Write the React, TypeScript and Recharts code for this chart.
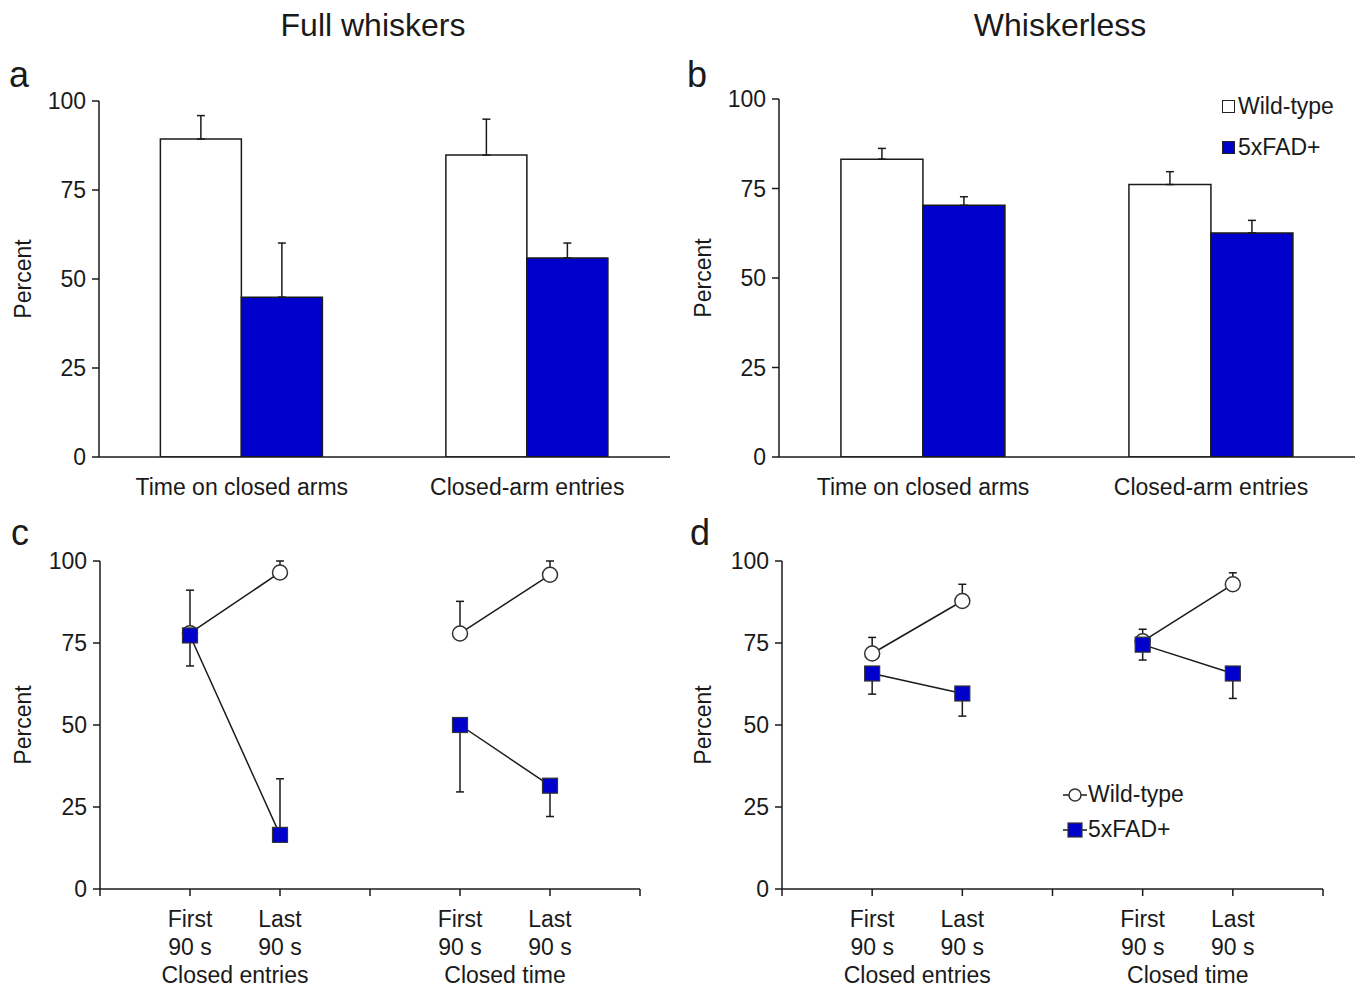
import React from 'react';
import { BarChart, Bar, LineChart, Line, XAxis, YAxis, ErrorBar, Legend } from 'recharts';

const FONT = '"Liberation Sans", Arial, Helvetica, sans-serif';
const INK = '#1a1a1a';
const BLUE = '#0000cc';

// panels a & b (bars)
const barCategories = ['Time on closed arms', 'Closed-arm entries'];
const fullWt = [89.3, 84.8];
const fullWtErr = [6.6, 10.1];
const fullFad = [44.9, 55.9];
const fullFadErr = [15.2, 4.2];
const lessWt = [83.2, 76.1];
const lessWtErr = [3.0, 3.6];
const lessFad = [70.3, 62.6];
const lessFadErr = [2.4, 3.5];

// panels c & d (lines)
const phasePos = [1, 2, 4, 5];
const phaseNames = ['First', 'Last', 'First', 'Last'];
const groupPos = [1.5, 4.5];
const groupNames = ['Closed entries', 'Closed time'];
const percentTicks = [0, 25, 50, 75, 100];
// sign of the error says which way the bar is drawn: + up, - down
const fullWtLine = [78.0, 96.5, 77.9, 95.8];
const fullWtLineErr = [13.1, 3.5, 9.8, 4.2];
const fullFadLine = [77.3, 16.5, 50.0, 31.5];
const fullFadLineErr = [-9.3, 17.1, -20.4, -9.4];
const lessWtLine = [71.8, 87.8, 75.5, 92.9];
const lessWtLineErr = [4.9, 5.1, 3.7, 3.5];
const lessFadLine = [65.7, 59.6, 74.5, 65.7];
const lessFadLineErr = [-6.3, -6.9, -4.7, -7.6];

const seriesOrder = ['wt', 'fad'];

const oneSided = (e: number) => (e >= 0 ? [0, e] : [-e, 0]);

const barRows = (wt: number[], wtE: number[], fad: number[], fadE: number[]) =>
  barCategories.map((cat, i) => ({
    cat,
    wt: wt[i],
    wtE: oneSided(wtE[i]),
    fad: fad[i],
    fadE: oneSided(fadE[i]),
  }));

const lineRows = (wt: number[], wtE: number[], fad: number[], fadE: number[]) => {
  const rows: any[] = phasePos.map((x, i) => ({
    x,
    wt: wt[i],
    wtE: oneSided(wtE[i]),
    fad: fad[i],
    fadE: oneSided(fadE[i]),
  }));
  rows.splice(2, 0, { x: 3, wt: null, fad: null }); // gap between the two groups
  return rows;
};

const FS = 23;
const tickStyle = { fontSize: FS, fill: INK, fontFamily: FONT };
const axisStyle = { stroke: INK, strokeWidth: 1.5 };

const PercentLabel = (props: any) => {
  const vb = props.viewBox || {};
  const cx = (vb.x || 0) + 23;
  const cy = (vb.y || 0) + (vb.height || 0) / 2;
  return (
    <text x={cx} y={cy} transform={`rotate(-90 ${cx} ${cy})`} textAnchor="middle"
      dominantBaseline="central" fontSize={FS} fill={INK} fontFamily={FONT}>
      Percent
    </text>
  );
};

const PhaseTick = (props: any) => {
  const { x, y, payload } = props;
  const i = phasePos.indexOf(payload.value);
  if (i < 0) return <g />;
  return (
    <text x={x} y={y} textAnchor="middle" fontSize={FS} fill={INK} fontFamily={FONT}>
      <tspan x={x} dy={31}>{phaseNames[i]}</tspan>
      <tspan x={x} dy={28}>90 s</tspan>
    </text>
  );
};

const GroupTick = (props: any) => {
  const { x, y, payload } = props;
  const i = groupPos.indexOf(payload.value);
  return (
    <text x={x} y={y + 32} textAnchor="middle" fontSize={FS} fill={INK} fontFamily={FONT}>
      {groupNames[i]}
    </text>
  );
};

const CircleDot = (p: any) =>
  p.cy == null || p.value == null ? <g key={p.key} /> :
    <circle key={p.key} cx={p.cx} cy={p.cy} r={7.5} fill="#fff" stroke="#333" strokeWidth={1.5} />;

const SquareDot = (p: any) =>
  p.cy == null || p.value == null ? <g key={p.key} /> :
    <rect key={p.key} x={p.cx - 7.5} y={p.cy - 7.5} width={15} height={15} fill={BLUE} stroke="#333" strokeWidth={1.2} />;

const ordered = (payload: any[] = []) =>
  [...payload].sort((a, b) => seriesOrder.indexOf(a.dataKey) - seriesOrder.indexOf(b.dataKey));

const BarKey = (props: any) => (
  <div style={{ fontFamily: FONT, fontSize: FS, color: INK }}>
    {ordered(props.payload).map((e: any) => (
      <div key={e.value} style={{ display: 'flex', alignItems: 'center', height: 41 }}>
        <span style={{
          display: 'inline-block', width: 13, height: 13, boxSizing: 'border-box',
          border: '1.5px solid #222', background: e.dataKey === 'fad' ? BLUE : '#fff', marginRight: 3,
        }} />
        {e.value}
      </div>
    ))}
  </div>
);

const LineKey = (props: any) => (
  <div style={{ fontFamily: FONT, fontSize: FS, color: INK }}>
    {ordered(props.payload).map((e: any) => (
      <div key={e.value} style={{ display: 'flex', alignItems: 'center', height: 35 }}>
        <svg width={26} height={18}>
          <line x1={1} y1={9} x2={25} y2={9} stroke={INK} strokeWidth={1.5} />
          {e.dataKey === 'fad'
            ? <rect x={6} y={2} width={14} height={14} fill={BLUE} stroke="#333" strokeWidth={1.2} />
            : <circle cx={13} cy={9} r={6} fill="#fff" stroke="#333" strokeWidth={1.5} />}
        </svg>
        {e.value}
      </div>
    ))}
  </div>
);

const BarPanel = ({ data, legend, top }: { data: any[]; legend?: boolean; top: number }) => (
  <BarChart width={680} height={450} data={data} barCategoryGap="21.5%" barGap={0}
    margin={{ top, right: legend ? 5 : 10, bottom: 8, left: 0 }}>
    <XAxis dataKey="cat" tickLine={false} tickSize={0} tickMargin={22} height={45}
      axisLine={axisStyle} tick={tickStyle} />
    <YAxis width={99} domain={[0, 100]} ticks={percentTicks} allowDataOverflow
      axisLine={axisStyle} tickLine={axisStyle} tickSize={7} tickMargin={6} tick={tickStyle}
      label={PercentLabel} />
    <Bar dataKey="wt" name="Wild-type" fill="#fff" stroke={INK} strokeWidth={1.5} isAnimationActive={false}>
      <ErrorBar dataKey="wtE" width={4} stroke={INK} strokeWidth={1.5} direction="y" />
    </Bar>
    <Bar dataKey="fad" name="5xFAD+" fill={BLUE} stroke={INK} strokeWidth={1.5} isAnimationActive={false}>
      <ErrorBar dataKey="fadE" width={4} stroke={INK} strokeWidth={1.5} direction="y" />
    </Bar>
    {legend && (
      <Legend layout="vertical" align="center" verticalAlign="middle" content={BarKey}
        wrapperStyle={{ left: 542, top: 26, bottom: 'auto', width: 'auto', height: 'auto' }} />
    )}
  </BarChart>
);

const LinePanel = ({ data, legend, yWidth, right }: { data: any[]; legend?: boolean; yWidth: number; right: number }) => (
  <LineChart width={680} height={478} data={data} margin={{ top: 51, right, bottom: 5, left: 0 }}>
    <XAxis xAxisId="z" type="number" dataKey="x" domain={[0, 6]} ticks={groupPos}
      allowDataOverflow axisLine={false} tickLine={false} tickSize={0} tickMargin={0}
      height={32} tick={GroupTick} />
    <XAxis xAxisId="a" type="number" dataKey="x" domain={[0, 6]} ticks={[0, 1, 2, 3, 4, 5, 6]}
      allowDataOverflow axisLine={axisStyle} tickLine={axisStyle} tickSize={7} tickMargin={0}
      height={62} tick={PhaseTick} />
    <YAxis width={yWidth} domain={[0, 100]} ticks={percentTicks} allowDataOverflow
      axisLine={axisStyle} tickLine={axisStyle} tickSize={7} tickMargin={6} tick={tickStyle}
      label={PercentLabel} />
    <Line xAxisId="a" dataKey="wt" name="Wild-type" stroke={INK} strokeWidth={1.5}
      dot={CircleDot} activeDot={false} isAnimationActive={false}>
      <ErrorBar dataKey="wtE" width={4} stroke={INK} strokeWidth={1.5} direction="y" />
    </Line>
    <Line xAxisId="a" dataKey="fad" name="5xFAD+" stroke={INK} strokeWidth={1.5}
      dot={SquareDot} activeDot={false} isAnimationActive={false}>
      <ErrorBar dataKey="fadE" width={4} stroke={INK} strokeWidth={1.5} direction="y" />
    </Line>
    {legend && (
      <Legend layout="vertical" align="center" verticalAlign="middle" content={LineKey}
        wrapperStyle={{ left: 382, top: 267, bottom: 'auto', width: 'auto', height: 'auto' }} />
    )}
  </LineChart>
);

const txt = (s: string, left: number, top: number, size: number, center?: boolean) => (
  <div style={{
    position: 'absolute', left, top, fontSize: size, fontFamily: FONT, color: INK, lineHeight: 1,
    transform: center ? 'translateX(-50%)' : undefined, whiteSpace: 'nowrap',
  }}>{s}</div>
);

export default function App() {
  return (
    <div style={{ position: 'absolute', left: 0, top: 0, width: 1360, height: 988, background: '#fff' }}>
      {txt('Full whiskers', 373, 9, 32, true)}
      {txt('Whiskerless', 1060, 9, 32, true)}
      {txt('a', 9, 57, 36)}
      {txt('b', 687, 57, 36)}
      {txt('c', 11, 515, 36)}
      {txt('d', 690, 515, 36)}
      <div style={{ position: 'absolute', left: 0, top: 60 }}>
        <BarPanel data={barRows(fullWt, fullWtErr, fullFad, fullFadErr)} top={41} />
      </div>
      <div style={{ position: 'absolute', left: 680, top: 60 }}>
        <BarPanel data={barRows(lessWt, lessWtErr, lessFad, lessFadErr)} top={39} legend />
      </div>
      <div style={{ position: 'absolute', left: 0, top: 510 }}>
        <LinePanel data={lineRows(fullWtLine, fullWtLineErr, fullFadLine, fullFadLineErr)} yWidth={100} right={40} />
      </div>
      <div style={{ position: 'absolute', left: 680, top: 510 }}>
        <LinePanel data={lineRows(lessWtLine, lessWtLineErr, lessFadLine, lessFadLineErr)} yWidth={102} right={37} legend />
      </div>
    </div>
  );
}
